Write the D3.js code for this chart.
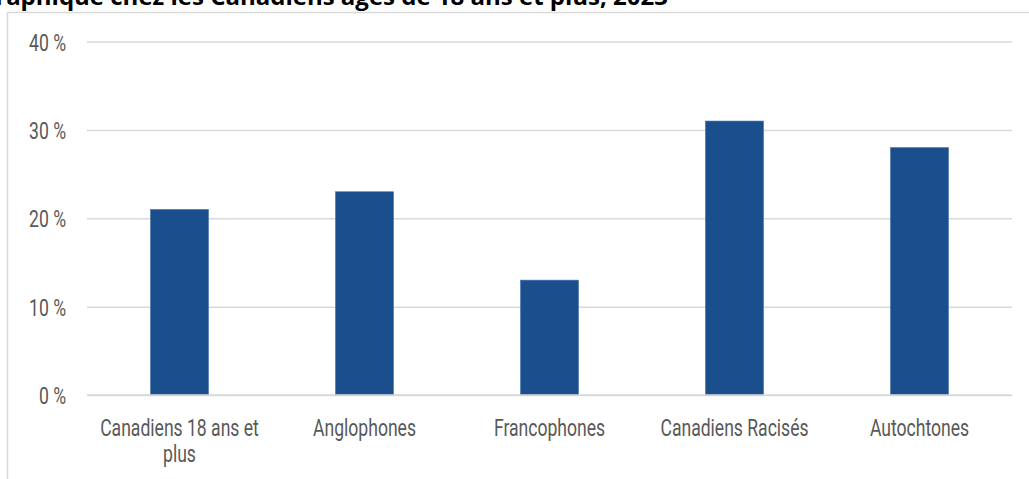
<!DOCTYPE html>
<html><head><meta charset="utf-8">
<script src="https://cdn.jsdelivr.net/npm/d3@7"></script>
<style>
body{margin:0;background:#fff;}
svg{display:block;}
</style></head>
<body><svg id="c" width="1029" height="479"></svg>
<script>
const categories = [["Canadiens 18 ans et","plus"],["Anglophones"],["Francophones"],["Canadiens Racisés"],["Autochtones"]];
const values = [21, 23, 13, 31, 28];
const yTicks = [0, 10, 20, 30, 40];
const tickLabels = ["0 %", "10 %", "20 %", "30 %", "40 %"];
const titleText = "démographique chez les Canadiens âgés de 18 ans et plus, 2023";

const svg = d3.select("#c");
const font = "Roboto, sans-serif";
const fs = 24, fw = 400;

// measure condensing factor
const probe = svg.append("text").attr("font-family",font).attr("font-size",fs).attr("font-weight",fw).text("Anglophones");
const sx = 103 / probe.node().getComputedTextLength();
probe.remove();

// frame
svg.append("path").attr("d","M7.5,479 V12.5 H1029").attr("fill","none").attr("stroke","#d9d9d9").attr("stroke-width",1.5);

// title (cut at top)
svg.append("text").attr("x",668).attr("y",5).attr("text-anchor","end")
  .attr("font-family","'Open Sans',sans-serif").attr("font-weight","bold").attr("font-size",24)
  .attr("fill","#000").text(titleText);

const x = d3.scaleBand().domain(d3.range(categories.length)).range([87,1012]).paddingInner(0.686).paddingOuter(0.343);
const y = d3.scaleLinear().domain([0,40]).range([395,41.5]);

// grid
const yAxis = d3.axisLeft(y).tickValues(yTicks).tickSize(-(1012-87)).tickFormat("");
const gy = svg.append("g").attr("transform","translate(87,0)").call(yAxis);
gy.select(".domain").remove();
gy.selectAll(".tick line").attr("stroke","#d9d9d9").attr("stroke-width",1.5);
gy.selectAll(".tick").append("text")
  .attr("transform",`translate(-21,8.5) scale(${sx},1)`)
  .attr("text-anchor","end").attr("font-family",font).attr("font-size",fs).attr("font-weight",fw)
  .attr("fill","#595959").text((d,i)=>tickLabels[i]);

// bars
svg.append("g").selectAll("rect").data(values).join("rect")
  .attr("x",(d,i)=>x(i)).attr("width",x.bandwidth())
  .attr("y",d=>y(d)).attr("height",d=>y(0)-y(d))
  .attr("fill","#1b4e8d").attr("stroke","#4b78b0").attr("stroke-width",0.6);

// baseline
svg.append("line").attr("x1",87).attr("x2",1012).attr("y1",y(0)).attr("y2",y(0)).attr("stroke","#d9d9d9").attr("stroke-width",1.5);

// category labels
const gx = svg.append("g");
categories.forEach((lines,i)=>{
  lines.forEach((l,j)=>{
    gx.append("text")
      .attr("transform",`translate(${x(i)+x.bandwidth()/2},${436+j*26}) scale(${sx},1)`)
      .attr("text-anchor","middle").attr("font-family",font).attr("font-size",fs).attr("font-weight",fw)
      .attr("fill","#595959").text(l);
  });
});
</script></body></html>
